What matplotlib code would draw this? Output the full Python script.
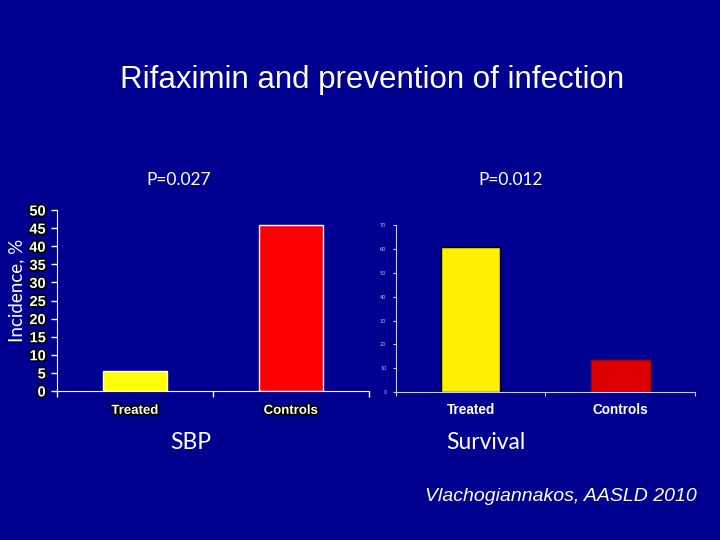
import numpy as np
import matplotlib
matplotlib.use('Agg')
import matplotlib.pyplot as plt
import matplotlib.patheffects as pe

# data
groups = ['Treated', 'Controls']
sbp_incidence = [5.5, 46]       # SBP incidence, %
survival = [61, 13.5]           # survival, %
p_values = ['P=0.027', 'P=0.012']
bar_colors_left = ['#ffff00', '#ff0000']
bar_colors_right = ['#ffef00', '#dd0000']

bg = '#000090'
shadow = [pe.withStroke(linewidth=2.5, foreground='black')]

fig = plt.figure(figsize=(7.2, 5.4), dpi=100)
fig.patch.set_facecolor(bg)

fig.text(0.517, 0.852, 'Rifaximin and prevention of infection', color='white',
         fontsize=22.5, family='Liberation Sans', ha='center', va='center')

# left chart : SBP
ax1 = fig.add_axes([0.079, 0.276, 0.433, 0.335])
ax1.set_facecolor(bg)
x = np.arange(len(groups))
ax1.bar(x, sbp_incidence, width=0.41, color=bar_colors_left, edgecolor='white', linewidth=1)
ax1.set_xlim(-0.5, 1.5)
ax1.set_ylim(0, 50)
ax1.set_yticks(np.arange(0, 51, 5))
ax1.set_xticks([-0.5, 0.5, 1.5])
ax1.set_xticklabels([])
ax1.tick_params(axis='x', length=4, color='white', width=1)
ax1.tick_params(axis='y', length=4, color='white', width=1, labelcolor='white', pad=4)
for lab in ax1.get_yticklabels():
    lab.set_fontsize(10.5)
    lab.set_fontweight('bold')
    lab.set_family('Liberation Sans')
    lab.set_path_effects(shadow)
for s in ['top', 'right']:
    ax1.spines[s].set_visible(False)
for s in ['left', 'bottom']:
    ax1.spines[s].set_color('white')
for i, g in enumerate(groups):
    ax1.text(x[i], -0.11, g, transform=ax1.get_xaxis_transform(), color='white', fontsize=9.5,
             fontweight='bold', family='Liberation Sans', ha='center', va='center', path_effects=shadow)
fig.text(0.024, 0.462, 'Incidence, %', color='white', fontsize=13.5, family='Lato',
         rotation=90, ha='center', va='center')

# right chart : survival
ax2 = fig.add_axes([0.55, 0.274, 0.415, 0.309])
ax2.set_facecolor(bg)
ax2.bar(x[0], survival[0], width=0.395, color=bar_colors_right[0], edgecolor='black', linewidth=1)
ax2.bar(x[1], survival[1], width=0.395, color=bar_colors_right[1], edgecolor='#aa0000', linewidth=1)
ax2.set_xlim(-0.5, 1.5)
ax2.set_ylim(0, 70)
ax2.set_yticks(np.arange(0, 71, 10))
ax2.set_xticks([-0.5, 0.5, 1.5])
ax2.set_xticklabels([])
ax2.tick_params(axis='x', length=3, color='#c8c8ff', width=0.8)
ax2.tick_params(axis='y', length=2, color='#c8c8ff', width=0.8, labelcolor='#c8c8ff', labelsize=3.5, pad=5)
for s in ['top', 'right']:
    ax2.spines[s].set_visible(False)
for s in ['left', 'bottom']:
    ax2.spines[s].set_color('#c8c8ff')
    ax2.spines[s].set_linewidth(0.8)
for i, g in enumerate(groups):
    ax2.text(x[i], -0.11, g, transform=ax2.get_xaxis_transform(), color='white', fontsize=9.8,
             fontweight='bold', family='Liberation Sans', ha='center', va='center')

# annotations
fig.text(0.248, 0.667, p_values[0], color='white', fontsize=12.5, family='Lato', ha='center', va='center')
fig.text(0.709, 0.667, p_values[1], color='white', fontsize=12.5, family='Lato', ha='center', va='center')
fig.text(0.265, 0.18, 'SBP', color='white', fontsize=16.5, family='Lato', ha='center', va='center')
fig.text(0.675, 0.18, 'Survival', color='white', fontsize=16.5, family='Lato', ha='center', va='center')
fig.text(0.779, 0.08, 'Vlachogiannakos, AASLD 2010', color='white', fontsize=14, style='italic',
         family='Liberation Sans', ha='center', va='center')

fig.savefig('out.png', dpi=100, facecolor=bg)
